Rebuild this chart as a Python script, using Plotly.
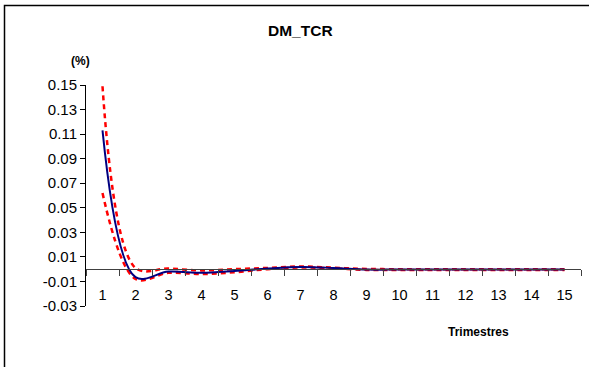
import plotly.graph_objects as go

trimestres = list(range(1, 16))
central = [0.113, -0.0065, -0.002, -0.003, -0.0015, 0.0005, 0.0018, 0.001, -0.0003, -0.0003, -0.0003, -0.0003, -0.0003, -0.0003, -0.0003]
upper = [0.149, 0.001, 0.0005, -0.001, 0.0, 0.001, 0.0022, 0.0012, 0.0002, 0.0, 0.0, 0.0, 0.0, 0.0, 0.0]
lower = [0.062, -0.008, -0.003, -0.004, -0.0025, 0.0, 0.0014, 0.0006, -0.0006, -0.0006, -0.0006, -0.0006, -0.0006, -0.0006, -0.0006]
y_ticks = [-0.03, -0.01, 0.01, 0.03, 0.05, 0.07, 0.09, 0.11, 0.13, 0.15]
y_ticktext = ["-0.03", "-0.01", "0.01", "0.03", "0.05", "0.07", "0.09", "0.11", "0.13", "0.15"]

W, H = 589, 367
L, R, T, B = 86, 8, 85, 61
pw, ph = W - L - R, H - T - B

def px_x(p):
    return (p - L) / pw

def px_y(p):
    return (H - B - p) / ph

fig = go.Figure()
fig.add_trace(go.Scatter(x=trimestres, y=upper, mode="lines",
                         line=dict(color="#FF0000", width=2.5, dash="5px,4px", shape="spline", smoothing=1),
                         showlegend=False, hoverinfo="skip"))
fig.add_trace(go.Scatter(x=trimestres, y=lower, mode="lines",
                         line=dict(color="#FF0000", width=2.5, dash="5px,4px", shape="spline", smoothing=1),
                         showlegend=False, hoverinfo="skip"))
fig.add_trace(go.Scatter(x=trimestres, y=central, mode="lines",
                         line=dict(color="#000080", width=2, shape="spline", smoothing=1),
                         showlegend=False))

ymin, ymax = -0.03, 0.15
fig.update_layout(
    width=W, height=H,
    margin=dict(l=L, r=R, t=T, b=B, pad=0),
    paper_bgcolor="white", plot_bgcolor="white",
    font=dict(family="Arial, Liberation Sans, sans-serif", color="black"),
    xaxis=dict(range=[0.5, 15.5], tickvals=trimestres, ticktext=[str(t) for t in trimestres],
               ticks="", showgrid=False, zeroline=False, showline=True, linecolor="#404040", linewidth=1,
               anchor="free", position=(0 - ymin) / (ymax - ymin),
               tickfont=dict(size=14.5), ticklabelstandoff=12,
               minor=dict(tickvals=[i + 0.5 for i in range(0, 16)], ticks="outside", ticklen=6,
                          tickcolor="#404040", tickwidth=1, showgrid=False)),
    yaxis=dict(range=[ymin, ymax], tickvals=y_ticks, ticktext=y_ticktext,
               ticks="outside", ticklen=5, tickcolor="black", showgrid=False, zeroline=False,
               showline=True, linecolor="black", linewidth=1, tickfont=dict(size=15)),
    annotations=[
        dict(text="<b>DM_TCR</b>", xref="paper", yref="paper", x=px_x(300), y=px_y(31),
             showarrow=False, font=dict(size=15.5), xanchor="center", yanchor="middle"),
        dict(text="<b>(%)</b>", xref="paper", yref="paper", x=px_x(80), y=px_y(61),
             showarrow=False, font=dict(size=12), xanchor="center", yanchor="middle"),
        dict(text="<b>Trimestres</b>", xref="paper", yref="paper", x=px_x(478.5), y=px_y(332),
             showarrow=False, font=dict(size=12), xanchor="center", yanchor="middle"),
    ],
    shapes=[
        dict(type="rect", xref="paper", yref="paper", x0=px_x(4.5), y0=px_y(400), x1=px_x(620), y1=px_y(5.5),
             line=dict(color="black", width=1.5), fillcolor="rgba(0,0,0,0)", layer="above"),
    ],
)

fig.write_html("out.html", config={"displayModeBar": False},
               post_script="document.body.style.margin='0px';document.body.style.overflow='hidden';")
